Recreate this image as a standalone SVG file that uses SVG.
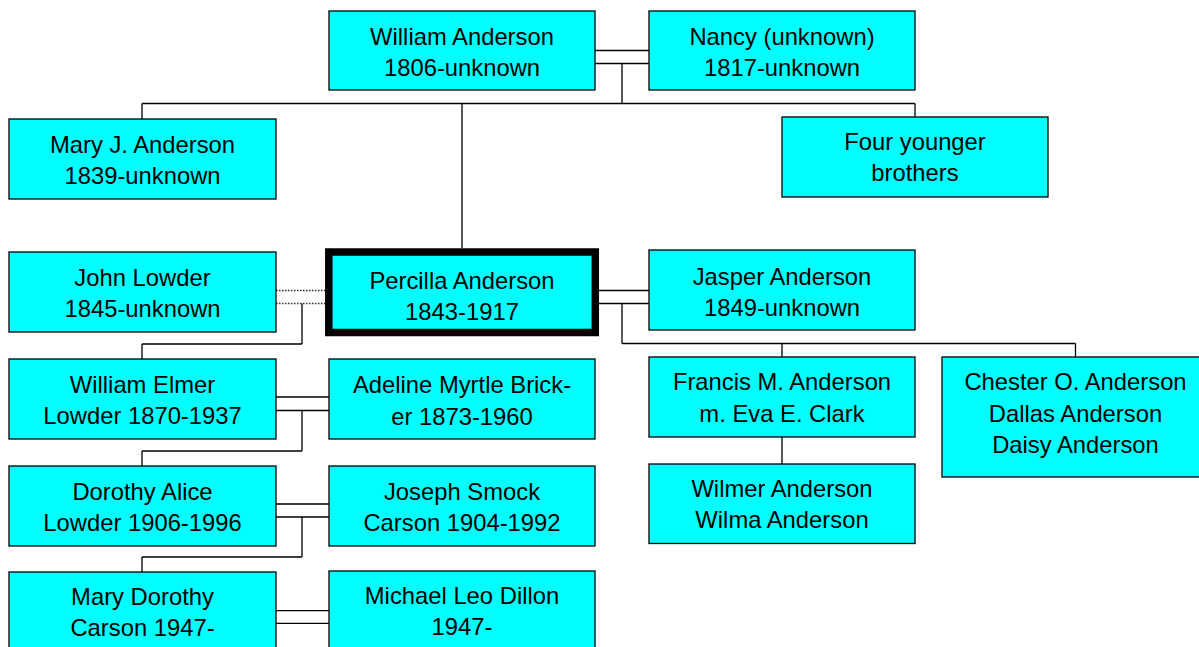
<svg xmlns="http://www.w3.org/2000/svg" width="1199" height="647" viewBox="0 0 1199 647">
<style>
.box{fill:#00FFFF;stroke:#000;stroke-width:1.3}
.focus{fill:#00FFFF;stroke:#000;stroke-width:7.5}
.t{font-family:"Liberation Sans",Arial,sans-serif;font-size:23.8px;fill:#000;text-anchor:middle}
.c{fill:none;stroke:#000;stroke-width:1.3}
.d{fill:none;stroke:#333;stroke-width:1.3;stroke-dasharray:1.5 1.5}
</style>
<rect width="1199" height="647" fill="#fff"/>
<g id="connectors">
<path class="c" d="M595,50.5H649M595,63.5H649M622,63.5V103.5M142,103.5H915M142,103.5V119M915,103.5V117M462,103.5V248"/>
<path class="d" d="M276,290.5H325M276,303.5H325"/>
<path class="c" d="M302,303.5V344M142,344H302M142,344V359"/>
<path class="c" d="M599,290.5H649M599,303.5H649M622,303.5V343.5M622,343.5H1075.5M782,343.5V357M1075.5,343.5V357M782,437V464"/>
<path class="c" d="M276,397H329M276,410.5H329M302,410.5V451M142,451H302M142,451V466"/>
<path class="c" d="M276,504H329M276,517H329M302,517V557M142,557H302M142,557V572"/>
<path class="c" d="M276,610.7H329M276,623.3H329"/>
</g>
<g id="william-anderson"><rect class="box" x="329" y="11" width="266" height="79"/><text class="t" x="462" y="44.5">William Anderson</text><text class="t" x="462" y="75.5">1806-unknown</text></g>
<g id="nancy"><rect class="box" x="649" y="11" width="266" height="79"/><text class="t" x="782" y="44.5">Nancy (unknown)</text><text class="t" x="782" y="75.5">1817-unknown</text></g>
<g id="mary-j-anderson"><rect class="box" x="9" y="119" width="267" height="80"/><text class="t" x="142.5" y="153">Mary J. Anderson</text><text class="t" x="142.5" y="184">1839-unknown</text></g>
<g id="four-younger-brothers"><rect class="box" x="782" y="117" width="266" height="80"/><text class="t" x="915" y="150">Four younger</text><text class="t" x="915" y="181">brothers</text></g>
<g id="john-lowder"><rect class="box" x="9" y="252" width="267" height="80"/><text class="t" x="142.5" y="285.5">John Lowder</text><text class="t" x="142.5" y="317">1845-unknown</text></g>
<g id="percilla-anderson"><rect class="focus" x="328.8" y="252" width="266.5" height="80.5"/><text class="t" x="462" y="288.5">Percilla Anderson</text><text class="t" x="462" y="320">1843-1917</text></g>
<g id="jasper-anderson"><rect class="box" x="649" y="250" width="266" height="80"/><text class="t" x="782" y="284.5">Jasper Anderson</text><text class="t" x="782" y="315.5">1849-unknown</text></g>
<g id="william-elmer-lowder"><rect class="box" x="9" y="359" width="267" height="80"/><text class="t" x="142.5" y="392.5">William Elmer</text><text class="t" x="142.5" y="424">Lowder 1870-1937</text></g>
<g id="adeline-myrtle-bricker"><rect class="box" x="329" y="359" width="266" height="80"/><text class="t" x="462" y="392.5">Adeline Myrtle Brick-</text><text class="t" x="462" y="424.5">er 1873-1960</text></g>
<g id="francis-m-anderson"><rect class="box" x="649" y="357" width="266" height="80"/><text class="t" x="782" y="390">Francis M. Anderson</text><text class="t" x="782" y="421.7">m. Eva E. Clark</text></g>
<g id="chester-dallas-daisy"><rect class="box" x="942" y="357" width="267" height="120"/><text class="t" x="1075.5" y="390">Chester O. Anderson</text><text class="t" x="1075.5" y="421.7">Dallas Anderson</text><text class="t" x="1075.5" y="453">Daisy Anderson</text></g>
<g id="wilmer-wilma"><rect class="box" x="649" y="464" width="266" height="79.5"/><text class="t" x="782" y="496.7">Wilmer Anderson</text><text class="t" x="782" y="527.7">Wilma Anderson</text></g>
<g id="dorothy-alice-lowder"><rect class="box" x="9" y="466" width="267" height="80"/><text class="t" x="142.5" y="499.5">Dorothy Alice</text><text class="t" x="142.5" y="530.5">Lowder 1906-1996</text></g>
<g id="joseph-smock-carson"><rect class="box" x="329" y="466" width="266" height="80"/><text class="t" x="462" y="499.5">Joseph Smock</text><text class="t" x="462" y="530.5">Carson 1904-1992</text></g>
<g id="mary-dorothy-carson"><rect class="box" x="9" y="572" width="267" height="80"/><text class="t" x="142.5" y="605">Mary Dorothy</text><text class="t" x="142.5" y="636">Carson 1947-</text></g>
<g id="michael-leo-dillon"><rect class="box" x="329" y="571" width="266" height="80"/><text class="t" x="462" y="603.5">Michael Leo Dillon</text><text class="t" x="462" y="635">1947-</text></g>
</svg>
